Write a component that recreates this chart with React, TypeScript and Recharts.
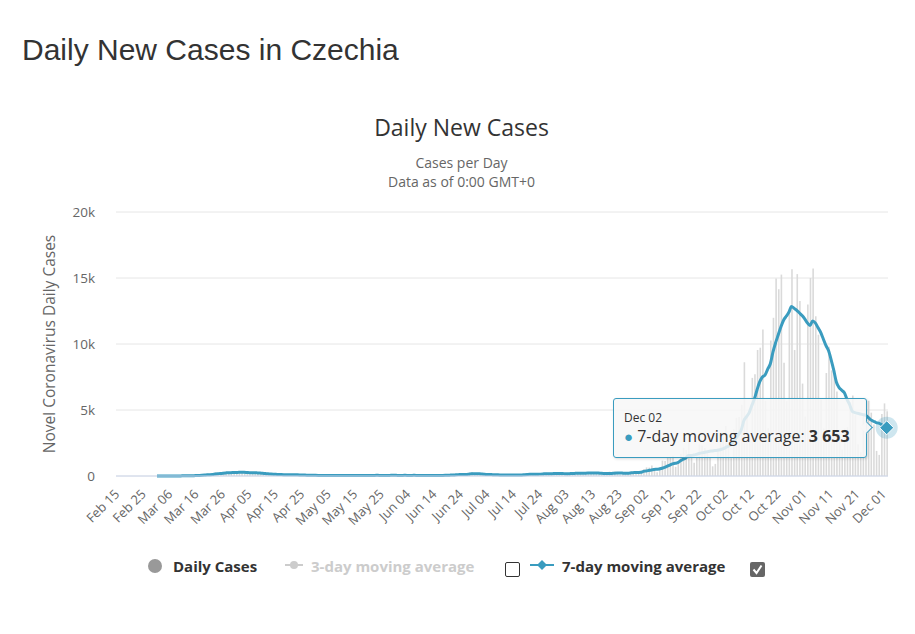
import React from "react";
import { ComposedChart, Bar, Line, XAxis, YAxis, CartesianGrid, Tooltip } from "recharts";

// Czechia, daily new cases + 7-day moving average (Feb 15 - Dec 02)
const monthNames = ["Feb", "Mar", "Apr", "May", "Jun", "Jul", "Aug", "Sep", "Oct", "Nov", "Dec"];
const monthFirstDay = [15, 1, 1, 1, 1, 1, 1, 1, 1, 1, 1];

const dailyFeb = [null, null, null, null, null, null, null, null, null, null, null, null, null, null, null];
const dailyMar = [3, 0, 2, 0, 3, 4, 7, 12, 9, 23, 31, 22, 25, 36, 61, 81, 84, 110, 142, 170, 120, 165, 284, 235, 247, 283, 242, 284, 213, 285, 319];
const dailyApr = [376, 269, 257, 196, 139, 214, 255, 286, 194, 129, 94, 85, 115, 154, 127, 133, 98, 102, 66, 116, 96, 103, 98, 69, 53, 40, 75, 70, 56, 42];
const dailyMay = [31, 24, 30, 24, 55, 45, 28, 36, 68, 16, 19, 36, 35, 27, 33, 53, 18, 38, 54, 48, 62, 49, 50, 20, 40, 41, 43, 78, 58, 51, 19];
const dailyJun = [36, 58, 52, 49, 33, 99, 38, 36, 58, 50, 21, 26, 15, 35, 23, 90, 85, 118, 121, 99, 168, 113, 105, 131, 90, 127, 260, 305, 103, 131];
const dailyJul = [75, 95, 122, 100, 98, 50, 96, 69, 77, 90, 107, 78, 49, 41, 74, 92, 103, 159, 170, 144, 111, 67, 150, 155, 237, 255, 127, 147, 220, 249, 201];
const dailyAug = [190, 161, 116, 211, 253, 306, 254, 151, 118, 208, 256, 287, 301, 261, 212, 123, 163, 274, 328, 303, 346, 230, 94, 191, 215, 253, 328, 331, 286, 235, 298];
const dailySep = [531, 650, 636, 798, 507, 282, 641, 1161, 1128, 1382, 1447, 1541, 697, 1134, 1677, 2139, 1979, 3130, 1368, 1007, 1476, 2394, 2309, 2126, 1971, 1440, 732, 917, 2055, 2722];
const dailyOct = [2925, 3793, 2573, 1349, 3534, 4410, 4468, 5394, 8618, 4639, 2913, 7433, 7703, 9544, 9720, 11105, 5700, 3621, 10273, 11984, 14968, 14150, 15258, 8580, 5669, 12471, 15663, 9543, 15295, 13250, 7000];
const dailyNov = [4500, 13000, 15000, 15729, 12100, 10700, 5800, 3600, 7800, 9800, 8000, 8000, 6400, 3500, 2000, 3600, 3700, 5600, 6100, 4600, 2400, 1800, 4600, 5700, 5700, 4800, 3900, 1900, 1600, 4700];
const dailyDec = [5500, 4900];

const avgFeb = [null, null, null, null, null, null, null, null, null, null, null, null, null, null, null];
const avgMar = [0, 1, 1, 1, 1, 2, 3, 4, 5, 8, 12, 15, 18, 21, 27, 35, 43, 53, 68, 86, 101, 120, 146, 171, 196, 217, 235, 251, 255, 264, 269];
const avgApr = [279, 283, 279, 267, 254, 247, 245, 233, 219, 200, 184, 170, 150, 133, 124, 116, 111, 104, 98, 99, 94, 91, 86, 82, 76, 68, 65, 61, 55, 50];
const avgMay = [46, 42, 37, 34, 35, 37, 35, 37, 40, 38, 37, 36, 33, 31, 32, 34, 31, 32, 35, 38, 42, 46, 49, 47, 46, 45, 44, 47, 48, 48, 47];
const avgJun = [45, 47, 48, 45, 44, 50, 46, 46, 46, 44, 42, 34, 34, 31, 30, 37, 46, 53, 58, 67, 77, 90, 104, 116, 118, 118, 140, 166, 167, 174];
const avgJul = [170, 149, 128, 105, 111, 101, 100, 86, 83, 81, 84, 82, 78, 72, 76, 78, 85, 101, 115, 126, 128, 127, 133, 142, 156, 175, 162, 166, 183, 197, 194];
const avgAug = [185, 180, 168, 178, 186, 198, 206, 207, 201, 214, 221, 223, 228, 230, 224, 201, 188, 187, 190, 196, 213, 222, 225, 218, 212, 216, 231, 254, 260, 270, 280];
const avgSep = [350, 380, 420, 460, 490, 510, 530, 590, 650, 740, 830, 920, 960, 1010, 1150, 1270, 1360, 1560, 1560, 1590, 1640, 1700, 1750, 1780, 1830, 1880, 1900, 1930, 1950, 1990];
const avgOct = [2050, 2150, 2250, 2350, 2600, 2850, 3150, 3500, 4200, 4500, 4800, 5350, 5850, 6550, 7150, 7500, 7650, 8100, 8500, 9400, 10100, 10700, 11300, 11800, 12100, 12400, 12850, 12700, 12550, 12350, 12150];
const avgNov = [11900, 11600, 11400, 11750, 11600, 11250, 10900, 10400, 9900, 9500, 8800, 8000, 7100, 6700, 6500, 6300, 5800, 5400, 4900, 4800, 4750, 4700, 4650, 4600, 4450, 4250, 4150, 4050, 4000, 3900];
const avgDec = [3750, 3653];

const dailyByMonth = [dailyFeb, dailyMar, dailyApr, dailyMay, dailyJun, dailyJul, dailyAug, dailySep, dailyOct, dailyNov, dailyDec];
const avgByMonth = [avgFeb, avgMar, avgApr, avgMay, avgJun, avgJul, avgAug, avgSep, avgOct, avgNov, avgDec];

const yTicks = [0, 5000, 10000, 15000, 20000];

const data: { date: string; daily: number | null; avg7: number | null }[] = [];
monthNames.forEach((m, mi) => {
  dailyByMonth[mi].forEach((d, di) => {
    const day = String(monthFirstDay[mi] + di).padStart(2, "0");
    data.push({ date: `${m} ${day}`, daily: d, avg7: avgByMonth[mi][di] });
  });
});

const BLUE = "#3a9cbf";
const FONT = "'Open Sans', sans-serif";

// "3 653" style thousands
const fmt = (v: number) => String(Math.round(v)).replace(/\B(?=(\d{3})+(?!\d))/g, " ");

const XTick = (props: any) => {
  const { x, y, payload } = props;
  const ax = x + 3;
  const ay = y + 11;
  return (
    <text x={ax} y={ay} transform={`rotate(-45 ${ax} ${ay})`} textAnchor="end" fontSize={13} fill="#666" fontFamily={FONT}>
      {payload.value}
    </text>
  );
};

const YLabel = (props: any) => {
  const { viewBox } = props;
  const cx = viewBox.x + 47;
  const cy = viewBox.y + viewBox.height / 2;
  return (
    <text x={cx} y={cy} transform={`rotate(-90 ${cx} ${cy})`} textAnchor="middle" fontSize={15.5} fill="#666" fontFamily={FONT}>
      Novel Coronavirus Daily Cases
    </text>
  );
};

const DiamondDot = (props: any) => {
  const { cx, cy } = props;
  if (cx == null || cy == null) return null;
  const r = 7;
  return (
    <g>
      <circle cx={cx} cy={cy} r={11} fill={BLUE} fillOpacity={0.25} />
      <path d={`M${cx},${cy - r} L${cx + r},${cy} L${cx},${cy + r} L${cx - r},${cy} Z`} fill={BLUE} stroke="#fff" strokeWidth={1} />
    </g>
  );
};

const TipBox = ({ active, payload, label }: any) => {
  if (!active || !payload || !payload.length) return null;
  const p = payload.find((q: any) => q.dataKey === "avg7");
  if (!p) return null;
  return (
    <div style={{ position: "relative", boxSizing: "border-box", width: 254, height: 60, background: "rgba(247,247,247,0.85)", border: `1px solid ${BLUE}`, borderRadius: 3, boxShadow: "1px 1px 3px rgba(0,0,0,0.15)", fontFamily: FONT, color: "#333", padding: "11px 10px 0 10px" }}>
      <div style={{ position: "absolute", right: -5, top: 24, width: 8, height: 8, background: "rgba(247,247,247,0.95)", borderTop: `1px solid ${BLUE}`, borderRight: `1px solid ${BLUE}`, transform: "rotate(45deg)" }} />
      <div style={{ fontSize: 12, lineHeight: "16px" }}>{label}</div>
      <div style={{ fontSize: 16, lineHeight: "20px", whiteSpace: "nowrap" }}>
        <span style={{ color: BLUE, fontSize: 15 }}>●</span> 7-day moving average: <b>{fmt(p.value)}</b>
      </div>
    </div>
  );
};

const abs = (left: number, top: number): React.CSSProperties => ({ position: "absolute", left, top });

export default function App() {
  return (
    <div style={{ position: "relative", width: 907, height: 618, fontFamily: FONT }}>
      <div style={{ ...abs(14, 27), fontFamily: "'Liberation Sans', Arial, sans-serif", fontSize: 30, lineHeight: "30px", color: "#333", whiteSpace: "nowrap" }}>
        Daily New Cases in Czechia
      </div>
      <div style={{ ...abs(0, 108), width: 907, textAlign: "center", fontSize: 23, lineHeight: "23px", color: "#333" }}>Daily New Cases</div>
      <div style={{ ...abs(0, 145), width: 907, textAlign: "center", fontSize: 14, lineHeight: "19px", color: "#666" }}>
        Cases per Day
        <br />
        Data as of 0:00 GMT+0
      </div>

      <div style={abs(0, 0)}>
        <ComposedChart width={907} height={600} data={data} margin={{ top: 204, right: 27, bottom: 72, left: 0 }}>
          <CartesianGrid vertical={false} stroke="#e6e6e6" />
          <XAxis dataKey="date" interval={9} tickLine={false} axisLine={{ stroke: "#ccd6eb" }} height={60} tick={<XTick />} />
          <YAxis
            domain={[0, 20000]}
            ticks={yTicks}
            width={108}
            axisLine={false}
            tickLine={false}
            tickMargin={15}
            tick={{ fontSize: 13.5, fill: "#666", fontFamily: FONT }}
            tickFormatter={(v: number) => (v === 0 ? "0" : `${v / 1000}k`)}
            label={<YLabel />}
          />
          <Tooltip
            defaultIndex={291}
            cursor={false}
            content={<TipBox />}
            position={{ x: 605, y: 390 }}
            isAnimationActive={false}
            wrapperStyle={{ outline: "none" }}
          />
          <Bar dataKey="daily" fill="#dadada" barSize={1.6} isAnimationActive={false} />
          <Line dataKey="avg7" type="monotone" stroke={BLUE} strokeWidth={3} dot={false} activeDot={<DiamondDot />} isAnimationActive={false} />
        </ComposedChart>
      </div>

      {/* legend */}
      <div style={{ ...abs(140, 551), width: 14, height: 14, borderRadius: 7, background: "#999" }} />
      <div style={{ ...abs(165, 547), fontSize: 15, fontWeight: 700, lineHeight: "22px", color: "#333" }}>Daily Cases</div>

      <svg style={abs(276, 549)} width={20} height={16}>
        <line x1={1} y1={8} x2={19} y2={8} stroke="#ccc" strokeWidth={2} />
        <circle cx={10} cy={8} r={4} fill="#ccc" />
      </svg>
      <div style={{ ...abs(303, 547), fontSize: 15, fontWeight: 700, lineHeight: "22px", color: "#ccc" }}>3-day moving average</div>
      <div style={{ ...abs(497, 554), width: 13, height: 13, border: "1px solid #333", borderRadius: 2, background: "#fff" }} />

      <svg style={abs(521, 549)} width={26} height={16}>
        <line x1={1} y1={8} x2={25} y2={8} stroke={BLUE} strokeWidth={2} />
        <path d="M13,3 L18,8 L13,13 L8,8 Z" fill={BLUE} />
      </svg>
      <div style={{ ...abs(554, 547), fontSize: 15, fontWeight: 700, lineHeight: "22px", color: "#333" }}>7-day moving average</div>
      <svg style={abs(742, 554)} width={15} height={15}>
        <rect x={0} y={0} width={15} height={15} rx={2} fill="#666" />
        <path d="M3.5,7.5 L6.5,11 L11.5,3.5" stroke="#fff" strokeWidth={2} fill="none" />
      </svg>
    </div>
  );
}
